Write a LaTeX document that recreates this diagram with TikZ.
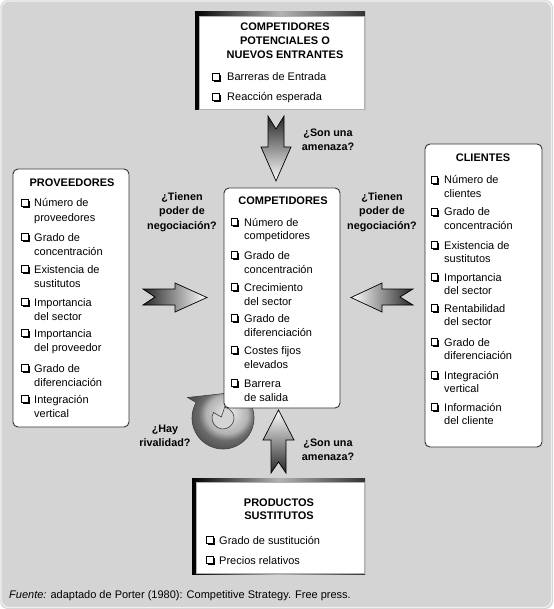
\documentclass[tikz,border=0pt]{standalone}
\usepackage{fontspec}
\setmainfont{Liberation Sans}
\usetikzlibrary{shadows,calc}
\definecolor{bgc}{RGB}{212,212,212}
\newcommand\fs{\fontsize{11pt}{13.5pt}\selectfont}
\newcommand\lfs{\fontsize{10.8pt}{14.5pt}\selectfont}
\pgfdeclareradialshading{ringshade}{\pgfpoint{5bp}{6bp}}{color(0bp)=(gray!15); color(5bp)=(gray!30); color(10bp)=(gray!45); color(15bp)=(gray!60); color(20bp)=(black!58); color(25bp)=(black!66); color(32bp)=(black!72); color(50bp)=(black!75)}
\begin{document}
\begin{tikzpicture}[x=1pt,y=-1pt,
  txt/.style={anchor=base west, inner sep=0pt, font=\fs},
  ttl/.style={anchor=base, inner sep=0pt, font=\fs\bfseries},
  lbl/.style={align=center, inner sep=0pt, font=\lfs\bfseries},
  cb/.style={rectangle, draw=black, fill=white, line width=0.7pt, minimum size=6.5pt, inner sep=0pt,
    general shadow={fill=black, shadow xshift=1.3pt, shadow yshift=-1.3pt}},
  rbox/.style={draw=black!80, fill=white, rounded corners=5pt, line width=0.9pt, inner sep=0pt},
  sframe/.style={inner sep=0pt, left color=black, right color=black!80, middle color=gray!60},
  sbox/.style={draw=gray!60, fill=white, line width=0.4pt, inner sep=0pt},
  barrow/.style={draw=black, line width=0.7pt, line join=miter},
]
\useasboundingbox (0,0) rectangle (553,609);
\fill[bgc, rounded corners=8pt] (0,0) rectangle (553,609);
\draw[gray!12, line width=1.2pt, rounded corners=8pt] (1,1) rectangle (551.5,607.5);

% curved rivalry arrow (under the central box)
\coordinate (C) at (223,418);
\path[barrow, draw=black!75, line width=0.6pt, shading=ringshade]
  ($(C)+(-80:31)$) arc[start angle=-80, end angle=210, radius=31]
  -- ($(C)+(210:41)$) -- ($(C)+(-75:26)$) -- ($(C)+(210:2)$) -- ($(C)+(210:11)$)
  arc[start angle=210, end angle=-80, radius=11] -- cycle;

% block arrows
\draw[barrow, top color=black!85, bottom color=white]
  (268,116) -- (268,147) -- (261,147) -- (276,181) -- (291,147) -- (284,147) -- (284,116) -- (276,129) -- cycle;
\draw[barrow, top color=white, bottom color=black!85]
  (271,473) -- (271,440) -- (263,440) -- (278.5,410) -- (294,440) -- (286,440) -- (286,473) -- (278.5,462) -- cycle;
\draw[barrow, left color=black!85, right color=white]
  (143,289) -- (175,289) -- (175,283) -- (207,297.5) -- (175,312) -- (175,305) -- (143,305) -- (155,297) -- cycle;
\draw[barrow, left color=white, right color=black!85]
  (413,289) -- (382,289) -- (382,283) -- (351,297.5) -- (382,312) -- (382,305) -- (413,305) -- (400,297) -- cycle;

% top box
\node[sframe, minimum width=170pt, minimum height=98pt] (potf) at (280,61) {};
\node[sbox, minimum width=165pt, minimum height=93pt] (pot) at (281.5,62.5) {};
\node[ttl] (pott1) at (285,31) {COMPETIDORES};
\node[ttl] (pott2) at (285,45) {POTENCIALES O};
\node[ttl] (pott3) at (285,59) {NUEVOS ENTRANTES};
\node[cb] (potc1) at (216,77) {};
\node[txt] (poti1) at (227,81) {Barreras de Entrada};
\node[cb] (potc2) at (216,97) {};
\node[txt] (poti2) at (227,101) {Reacción esperada};

% bottom box
\node[sframe, minimum width=173pt, minimum height=96pt] (susf) at (278.5,526) {};
\node[sbox, minimum width=168pt, minimum height=91pt] (sus) at (280,527.5) {};
\node[ttl] (sust1) at (279,506) {PRODUCTOS};
\node[ttl] (sust2) at (279,519.5) {SUSTITUTOS};
\node[cb] (susc1) at (210,540) {};
\node[txt] (susi1) at (219,544) {Grado de sustitución};
\node[cb] (susc2) at (210,560) {};
\node[txt] (susi2) at (219,564) {Precios relativos};

% proveedores
\node[rbox, minimum width=116pt, minimum height=258pt] (prov) at (71,298) {};
\node[ttl] (provt) at (72,187) {PROVEEDORES};
\foreach \a/\b/\y [count=\i] in {Número de/proveedores/203, Grado de/concentración/237,
  Existencia de/sustitutos/269, Importancia/del sector/302, Importancia/del proveedor/333,
  Grado de/diferenciación/368, Integración/vertical/399}
{
  \node[cb] (pc\i) at (25,\y) {};
  \node[txt] (pa\i) at (34,\y+4) {\a};
  \node[txt] (pb\i) at (34,\y+18.3) {\b};
}

% competidores
\node[rbox, minimum width=116pt, minimum height=220pt] (comp) at (282,298) {};
\node[ttl] (compt) at (283,205) {COMPETIDORES};
\foreach \a/\b/\y [count=\i] in {Número de/competidores/222, Grado de/concentración/255,
  Crecimiento/del sector/287, Grado de/diferenciación/318, Costes fijos/elevados/350,
  Barrera/de salida/383}
{
  \node[cb] (cc\i) at (234.5,\y) {};
  \node[txt] (ca\i) at (244,\y+4) {\a};
  \node[txt] (cbb\i) at (244,\y+18) {\b};
}

% clientes
\node[rbox, minimum width=117pt, minimum height=303pt] (cli) at (483.5,295.5) {};
\node[ttl] (clit) at (483,162) {CLIENTES};
\foreach \a/\b/\y [count=\i] in {Número de/clientes/180, Grado de/concentración/212,
  Existencia de/sustitutos/245, Importancia/del sector/277, Rentabilidad/del sector/308,
  Grado de/diferenciación/342, Integración/vertical/375, Información/del cliente/407}
{
  \node[cb] (kc\i) at (434.5,\y) {};
  \node[txt] (ka\i) at (444,\y+4) {\a};
  \node[txt] (kb\i) at (444,\y+17.5) {\b};
}

% question labels
\node[lbl] (q1) at (182,212) {¿Tienen\\poder de\\negociación?};
\node[lbl] (q2) at (382,212) {¿Tienen\\poder de\\negociación?};
\node[lbl] (q3) at (328,140) {¿Son una\\amenaza?};
\node[lbl] (q4) at (328,450) {¿Son una\\amenaza?};
\node[lbl] (q5) at (165,436) {¿Hay\\rivalidad?};

% source
\node[txt] (src) at (9,598) {\textit{Fuente:} adaptado de Porter (1980): Competitive Strategy. Free press.};
\end{tikzpicture}
\end{document}
